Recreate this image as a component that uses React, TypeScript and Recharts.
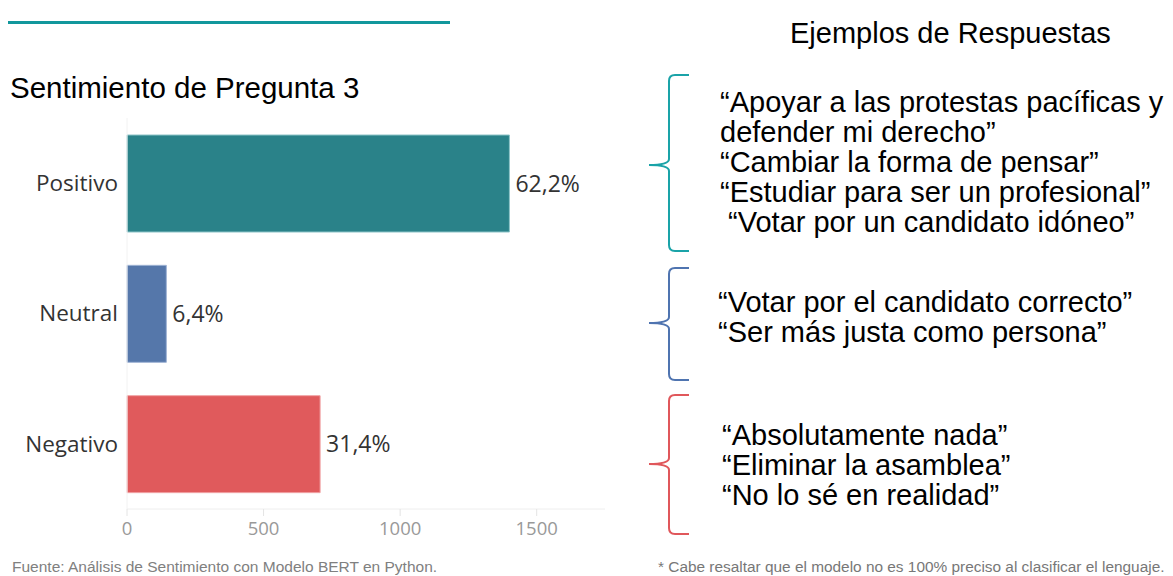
import { Bar, BarChart, Cell, LabelList, XAxis, YAxis } from 'recharts';

const categories = ['Positivo', 'Neutral', 'Negativo'];
const counts = [1400, 144, 707];
const percentLabels = ['62,2%', '6,4%', '31,4%'];
const barColors = ['#2a8289', '#5577aa', '#e05a5c'];
const barEdges = ['#8cc3c7', '#9fb4d4', '#f0a3a4'];
const xTicks = [0, 500, 1000, 1500];

const positiveExamples = [
  '“Apoyar a las protestas pacíficas y',
  'defender mi derecho”',
  '“Cambiar la forma de pensar”',
  '“Estudiar para ser un profesional”',
  ' “Votar por un candidato idóneo”',
];
const neutralExamples = ['“Votar por el candidato correcto”', '“Ser más justa como persona”'];
const negativeExamples = ['“Absolutamente nada”', '“Eliminar la asamblea”', '“No lo sé en realidad”'];

const data = categories.map((name, i) => ({ name, count: counts[i], label: percentLabels[i] }));

const brace = (x: number, top: number, mid: number, bottom: number) => {
  const r = 6;
  return [
    `M ${x + 20} ${top}`,
    `L ${x + r} ${top}`,
    `Q ${x} ${top} ${x} ${top + r}`,
    `L ${x} ${mid - r}`,
    `Q ${x} ${mid} ${x - 20} ${mid}`,
    `Q ${x} ${mid} ${x} ${mid + r}`,
    `L ${x} ${bottom - r}`,
    `Q ${x} ${bottom} ${x + r} ${bottom}`,
    `L ${x + 20} ${bottom}`,
  ].join(' ');
};

const TextBlock = ({ lines, left, top }: { lines: string[]; left: number; top: number }) => (
  <div style={{ position: 'absolute', left, top, fontSize: 29, lineHeight: '30px', whiteSpace: 'pre', color: '#000' }}>
    {lines.map((l) => (
      <div key={l}>{l}</div>
    ))}
  </div>
);

export default function App() {
  return (
    <div
      style={{
        position: 'absolute',
        left: 0,
        top: 0,
        width: 1173,
        height: 576,
        overflow: 'hidden',
        background: '#fff',
        fontFamily: '"Liberation Sans", Arial, sans-serif',
      }}
    >
      <div style={{ position: 'absolute', left: 8, top: 21, width: 442, height: 3, background: '#11979c' }} />
      <div style={{ position: 'absolute', left: 10, top: 71, fontSize: 29.5, color: '#000' }}>Sentimiento de Pregunta 3</div>

      <div style={{ position: 'absolute', left: 0, top: 0 }}>
        <BarChart
          width={640}
          height={560}
          data={data}
          layout="vertical"
          barSize={97}
          margin={{ top: 118, right: 35, bottom: 20, left: 0 }}
        >
          <XAxis
            type="number"
            domain={[0, 1750]}
            ticks={xTicks}
            height={31}
            axisLine={{ stroke: '#eeeeee' }}
            tickLine={{ stroke: '#e4e4e4' }}
            tickSize={7}
            tickMargin={6}
            tick={{ fill: '#999', fontSize: 18.5, fontFamily: '"Open Sans", sans-serif' }}
          />
          <YAxis
            type="category"
            dataKey="name"
            width={127}
            axisLine={{ stroke: '#f2f2f2' }}
            tickLine={false}
            tickSize={0}
            tickMargin={9}
            tick={{ fill: '#333', fontSize: 22.5, fontFamily: '"Open Sans", sans-serif' }}
          />
          <Bar dataKey="count" isAnimationActive={false} strokeWidth={1}>
            {data.map((d, i) => (
              <Cell key={d.name} fill={barColors[i]} stroke={barEdges[i]} />
            ))}
            <LabelList
              dataKey="label"
              position="right"
              offset={6}
              fill="#333"
              fontSize={23}
              fontFamily='"Open Sans", sans-serif'
            />
          </Bar>
        </BarChart>
      </div>

      <div style={{ position: 'absolute', left: 790, top: 17, fontSize: 29, color: '#000' }}>Ejemplos de Respuestas</div>

      <svg style={{ position: 'absolute', left: 0, top: 0 }} width={1173} height={576}>
        <path d={brace(669, 75, 165, 251)} fill="none" stroke="#1aa3a8" strokeWidth={2} />
        <path d={brace(669, 268, 323, 380)} fill="none" stroke="#4f74b0" strokeWidth={2} />
        <path d={brace(669, 395, 464, 534)} fill="none" stroke="#e0575b" strokeWidth={2} />
      </svg>

      <TextBlock lines={positiveExamples} left={720} top={87} />
      <TextBlock lines={neutralExamples} left={718} top={287} />
      <TextBlock lines={negativeExamples} left={722} top={420} />

      <div style={{ position: 'absolute', left: 12, top: 558, fontSize: 15.5, color: '#808080', whiteSpace: 'nowrap' }}>
        Fuente: Análisis de Sentimiento con Modelo BERT en Python.
      </div>
      <div style={{ position: 'absolute', left: 658, top: 558, fontSize: 15.4, color: '#777', whiteSpace: 'nowrap' }}>
        * Cabe resaltar que el modelo no es 100% preciso al clasificar el lenguaje.
      </div>
    </div>
  );
}
